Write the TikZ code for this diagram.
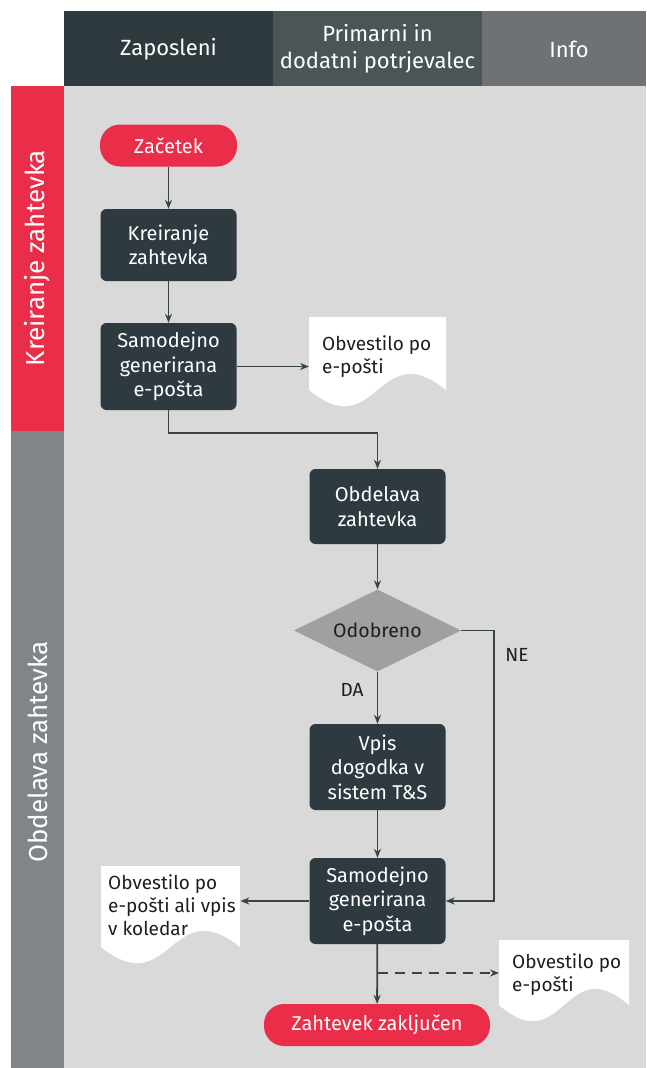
\documentclass[tikz,border=0pt]{standalone}
\usepackage{fontspec}
\setmainfont{Fira Sans}
\usetikzlibrary{shapes.geometric,arrows.meta}
\definecolor{lanered}{HTML}{EA2E4A}
\definecolor{lanegray}{HTML}{818589}
\definecolor{bggray}{HTML}{D9D9D9}
\definecolor{hdark}{HTML}{2E3A3E}
\definecolor{hmid}{HTML}{4B5457}
\definecolor{hlight}{HTML}{6E7274}
\definecolor{boxdark}{HTML}{2E3A3F}
\definecolor{linecol}{HTML}{37444A}
\definecolor{diagray}{HTML}{9FA0A1}
\definecolor{txtdark}{HTML}{1E1E1E}
\newcommand\docwave[4]{% x0, top, x1, ybottom
  \fill[white] (#1,#2) -- (#3,#2) -- (#3,#4)
    .. controls ({#1+0.5*(#3-#1)},#4-56) and ({#1+0.5*(#3-#1)},#4+56) .. (#1,#4) -- cycle;}
\begin{document}
\begin{tikzpicture}[x=1pt,y=-1pt,
  hdr/.style={text=white,font=\fontsize{22}{27}\selectfont,align=center},
  lanelbl/.style={text=white,font=\fontsize{26}{30}\selectfont,rotate=90},
  procbox/.style={rectangle,rounded corners=6pt,fill=boxdark,text=white,
    minimum width=136pt,inner sep=0pt,align=center,
    font=\fontsize{20}{24.5}\selectfont},
  pill/.style={rectangle,rounded corners=20pt,fill=lanered,text=white,
    minimum height=42pt,inner sep=0pt,font=\fontsize{20}{24}\selectfont},
  decision/.style={diamond,aspect=2,fill=diagray,text=txtdark,inner sep=0pt,
    minimum width=167pt,minimum height=82pt,font=\fontsize{19.5}{22}\selectfont},
  doctext/.style={anchor=north west,inner xsep=13pt,inner ysep=0pt,align=left,
    text=txtdark,font=\fontsize{19}{23}\selectfont},
  lbl/.style={text=txtdark,font=\fontsize{19}{22}\selectfont},
  arr/.style={draw=linecol,line width=1.8pt,-{Stealth[length=9pt,width=7pt]}}]
\useasboundingbox (0,0) rectangle (646,1068);
\fill[white] (0,0) rectangle (646,1068);
% background and header
\fill[bggray] (64,86) rectangle (646,1068);
\fill[hdark] (64,11) rectangle (273,86);
\fill[hmid] (273,11) rectangle (482,86);
\fill[hlight] (482,11) rectangle (646,86);
\node[hdr] (h1) at (168.5,49) {Zaposleni};
\node[hdr] (h2) at (377.5,48.5) {Primarni in\\dodatni potrjevalec};
\node[hdr] (h3) at (569,49) {Info};
% lanes
\fill[lanered] (11,86) rectangle (64,431);
\fill[lanegray] (11,431) rectangle (64,1068);
\node[lanelbl] (l1) at (37.5,258) {Kreiranje zahtevka};
\node[lanelbl] (l2) at (37.5,752) {Obdelava zahtevka};
% documents
\docwave{309}{317}{446}{390}
\docwave{101}{866}{240}{947}
\docwave{499}{940}{629}{1005}
\node[doctext,text width=111pt,minimum height=73pt] (d1) at (309,317) {};
\node[doctext,anchor=west] (d1t) at (309,357) {Obvestilo po\\e-pošti};
\node[doctext,text width=113pt,minimum height=81pt] (d2) at (101,866) {};
\node[doctext,anchor=west,inner xsep=7pt] (d2t) at (101,905) {Obvestilo po\\e-pošti ali vpis\\v koledar};
\node[doctext,text width=104pt,minimum height=65pt] (d3) at (499,940) {};
\node[doctext,anchor=west] (d3t) at (499,975) {Obvestilo po\\e-pošti};
% nodes
\node[pill,minimum width=137pt] (start) at (168.5,145.5) {Začetek};
\node[procbox,minimum height=72pt] (k1) at (168.5,245) {Kreiranje\\zahtevka};
\node[procbox,minimum height=87pt] (s1) at (168.5,366.5) {Samodejno\\generirana\\e-pošta};
\node[procbox,minimum height=75pt] (o1) at (377.5,506.5) {Obdelava\\zahtevka};
\node[decision] (dia) at (377.5,630.5) {Odobreno};
\node[procbox,minimum height=86pt] (v1) at (377.5,767) {Vpis\\dogodka v\\sistem T\&S};
\node[procbox,minimum height=86pt] (s2) at (377.5,901) {Samodejno\\generirana\\e-pošta};
\node[pill,minimum width=226pt] (end) at (377,1025) {Zahtevek zaključen};
\node[lbl] (da) at (352,690) {DA};
\node[lbl] (ne) at (517,655) {NE};
% connectors
\draw[arr] (start) -- (k1);
\draw[arr] (k1) -- (s1);
\draw[arr] (s1.east) -- (s1.east -| d1.west);
\draw[arr] (s1.south) -- ++(0,23) -| (o1.north);
\draw[arr] (o1) -- (dia);
\draw[arr] (dia.south) -- (v1.north);
\coordinate (nex) at (494,631);
\draw[arr] (dia.east) -- (dia.east -| nex) |- (s2.east);
\draw[arr] (v1) -- (s2);
\draw[arr] (s2.west) -- (s2.west -| d2.east);
\draw[arr] (s2) -- (end);
\coordinate (br) at (377.5,973);
\draw[arr,dashed,dash pattern=on 10pt off 7pt] (br) -- (br -| d3.west);
\end{tikzpicture}
\end{document}
